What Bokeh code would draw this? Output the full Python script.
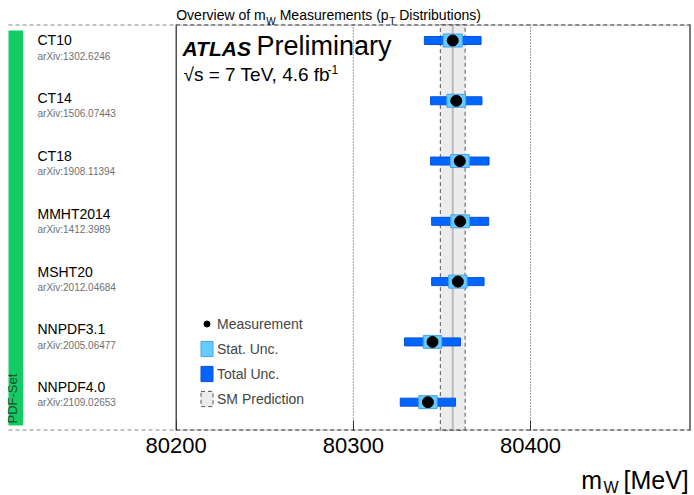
import math
from bokeh.plotting import figure
from bokeh.models import Range1d, ColumnDataSource, Legend, LegendItem, FixedTicker
from bokeh.core.properties import value
from bokeh.embed import file_html
from bokeh.resources import INLINE

# ---------------- data ----------------
pdf_sets = ["CT10", "CT14", "CT18", "MMHT2014", "MSHT20", "NNPDF3.1", "NNPDF4.0"]
arxiv_refs = ["arXiv:1302.6246", "arXiv:1506.07443", "arXiv:1908.11394", "arXiv:1412.3989",
              "arXiv:2012.04684", "arXiv:2005.06477", "arXiv:2109.02653"]
mw_values = [80356.1, 80358.1, 80360.1, 80360.3, 80359.0, 80344.7, 80342.1]
stat_unc = [5.4, 5.3, 5.3, 5.3, 5.2, 5.2, 5.2]
total_unc = [16.0, 14.5, 16.5, 16.1, 14.8, 15.8, 15.6]
sm_mw = 80356.1
sm_unc = 7.0
x_ticks = [80200, 80300, 80400]
grid_ticks = [80300, 80400]

FONT = "Liberation Sans"

# ------------- page-pixel helpers (layout only) -------------
X0_PX, SX = 175.7, 1.7715       # page x of 80200, px per MeV
Y0_PX, SY = 40.0, 60.28         # page y of first row, px per row
BASE_FIX = 0.4                  # baseline correction (em)


def dx(px):
    return 80200 + (px - X0_PX) / SX


def dy(py):
    return (py - Y0_PX) / SY


W, H = 694, 495
p = figure(width=W, height=H, output_backend="svg", toolbar_location=None,
           x_range=Range1d(dx(0), dx(W)), y_range=Range1d(dy(H), dy(0)),
           min_border=0, y_axis_location=None)
p.outline_line_color = None
p.background_fill_color = "white"
p.border_fill_color = "white"

# axis (drawn on the lower frame line)
ax = p.xaxis[0]
ax.fixed_location = dy(430)
ax.ticker = FixedTicker(ticks=x_ticks)
ax.axis_line_color = None
ax.major_tick_in = 10
ax.major_tick_out = 0
ax.major_tick_line_color = "#333333"
ax.minor_tick_line_color = None
ax.major_label_text_font = FONT
ax.major_label_text_font_size = "22px"
ax.major_label_text_color = "black"
ax.major_label_standoff = 7

p.xgrid.visible = False
p.ygrid.visible = False

rows = list(range(len(pdf_sets)))
y_top, y_bot = dy(24), dy(430)

# dotted grid lines
p.segment(x0=grid_ticks, x1=grid_ticks, y0=[y_top] * len(grid_ticks), y1=[y_bot] * len(grid_ticks),
          line_color="#444444", line_dash="1 2", line_width=1)

# SM band
band = p.quad(left=[sm_mw - sm_unc], right=[sm_mw + sm_unc], bottom=[y_bot], top=[y_top],
              fill_color="#ececec", line_color="#555555", line_dash="4 3", line_width=1)
p.segment(x0=[sm_mw], x1=[sm_mw], y0=[y_top], y1=[y_bot], line_color="#bbbbbb", line_width=2)

# frame lines
p.segment(x0=[80200], x1=[80200], y0=[y_top], y1=[y_bot], line_color="#222222", line_width=1.2)
p.segment(x0=[dx(689.5)], x1=[dx(689.5)], y0=[y_top], y1=[y_bot], line_color="#222222", line_width=1.2)
for yy in (dy(24.5), dy(429.5)):
    p.segment(x0=[dx(8)], x1=[80200], y0=[yy], y1=[yy], line_color="#888888", line_dash="4 3")
    p.segment(x0=[80200], x1=[dx(690)], y0=[yy], y1=[yy], line_color="#c8c8c8")
    p.segment(x0=[80200], x1=[dx(690)], y0=[yy], y1=[yy], line_color="#333333", line_dash="4 3")

# measurements
src = ColumnDataSource(dict(
    y=rows, mw=mw_values,
    tl=[m - t for m, t in zip(mw_values, total_unc)], tr=[m + t for m, t in zip(mw_values, total_unc)],
    sl=[m - s for m, s in zip(mw_values, stat_unc)], sr=[m + s for m, s in zip(mw_values, stat_unc)],
))
tot = p.hbar(y="y", left="tl", right="tr", height=8 / SY, source=src,
             fill_color="#0066ff", line_color="#0a52d6", line_width=1)
stat = p.hbar(y="y", left="sl", right="sr", height=13 / SY, source=src,
              fill_color="#66ccff", line_color="#4a9fe6", line_width=1)
pts = p.scatter(x="mw", y="y", source=src, size=11, marker="circle",
                fill_color="black", line_color="black")

# left side labels
lab_src = ColumnDataSource(dict(
    x=[dx(37)] * len(pdf_sets),
    y_main=[dy(45.5 + 57.8 * i - BASE_FIX * 14) for i in rows],
    y_sub=[dy(59.5 + 57.8 * i - BASE_FIX * 10) for i in rows],
    name=pdf_sets, ref=arxiv_refs,
))
p.text(x="x", y="y_main", text="name", source=lab_src, text_font=value(FONT),
       text_font_size="14px", text_baseline="alphabetic", text_color="black")
p.text(x="x", y="y_sub", text="ref", source=lab_src, text_font=value(FONT),
       text_font_size="10px", text_baseline="alphabetic", text_color="#707070")

# green PDF-Set bar
p.quad(left=[dx(8)], right=[dx(22.7)], top=[dy(30)], bottom=[dy(425)],
       fill_color="#14cc64", line_color=None)
p.text(x=[dx(17 - BASE_FIX * 13)], y=[dy(423)], text=["PDF-Set"], angle=math.pi / 2,
       text_font=value(FONT), text_font_size="13px", text_baseline="alphabetic",
       text_align="left", text_color="#17502c")


def txt(px, py, s, size, style="normal", align="left", color="black"):
    p.text(x=[dx(px)], y=[dy(py - BASE_FIX * size)], text=[s], text_font=value(FONT),
           text_font_size=f"{size}px", text_font_style=style, text_align=align,
           text_baseline="alphabetic", text_color=color)


# ATLAS labels
txt(182, 56, "ATLAS", 21, style="bold italic")
txt(256, 56, "Preliminary", 27)
txt(183, 82, "\u221as = 7 TeV, 4.6 fb", 19)
txt(327, 74, "-1", 12)

# title pieces
txt(175.7, 20.5, "Overview of m", 14)
txt(265.7, 24.5, "W", 10)
txt(279.2, 20.5, "Measurements (p", 14)
txt(388.7, 24.5, "T", 10)
txt(398.7, 20.5, "Distributions)", 14)

# axis title
txt(580.7, 489, "m", 25)
txt(603, 493, "W", 16)
txt(623, 489, "[MeV]", 25)

# legend
legend = Legend(items=[LegendItem(label="Measurement", renderers=[pts]),
                       LegendItem(label="Stat. Unc.", renderers=[stat]),
                       LegendItem(label="Total Unc.", renderers=[tot]),
                       LegendItem(label="SM Prediction", renderers=[band])],
                location=(199, H - 408), orientation="vertical",
                glyph_width=15, glyph_height=19, label_height=19, spacing=6,
                label_standoff=3, padding=0, margin=0,
                border_line_color=None, background_fill_alpha=0,
                label_text_font=FONT, label_text_font_size="14px")
p.add_layout(legend, "center")

open("out.html", "w").write(file_html(p, INLINE))
